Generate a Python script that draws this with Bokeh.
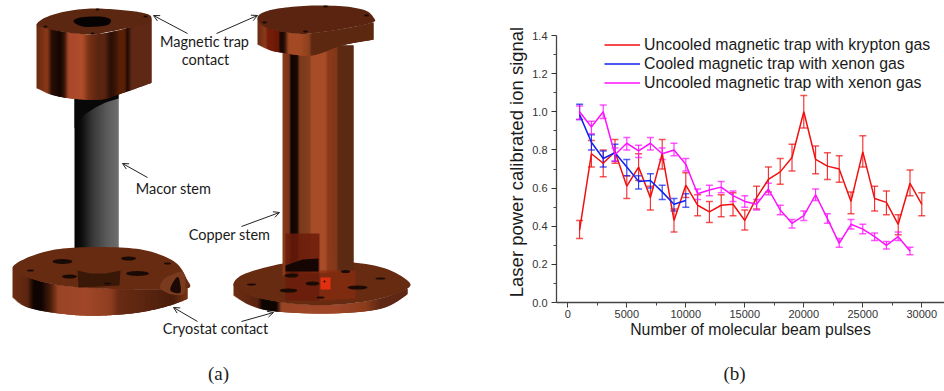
import numpy as np
from bokeh.plotting import figure
from bokeh.models import (ColumnDataSource, Whisker, TeeHead, Legend, LegendItem, Label, Arrow, OpenHead,
                          FixedTicker, Range1d, CustomJSTickFormatter)
from bokeh.embed import file_html
from bokeh.resources import INLINE

# ---------- chart data ----------
pulses = list(range(1000, 31000, 1000))
krypton = [0.38,0.78,0.73,0.79,0.61,0.71,0.55,0.78,0.43,0.615,0.51,0.475,0.51,0.515,0.43,0.55,0.645,0.685,0.76,1.0,0.75,0.715,0.70,0.53,0.79,0.545,0.525,0.41,0.625,0.515]
krypton_low = [0.335,0.71,0.66,0.73,0.545,0.64,0.485,0.70,0.37,0.55,0.455,0.42,0.45,0.455,0.38,0.49,0.58,0.62,0.69,0.915,0.675,0.645,0.63,0.465,0.71,0.48,0.46,0.355,0.56,0.455]
krypton_high = [0.43,0.85,0.80,0.855,0.665,0.78,0.61,0.855,0.49,0.68,0.565,0.53,0.565,0.575,0.485,0.61,0.71,0.755,0.83,1.085,0.82,0.785,0.77,0.58,0.875,0.61,0.585,0.46,0.695,0.575]
cooled = [0.985,0.84,0.755,0.785,0.71,0.635,0.64,0.58,0.515,0.535]
cooled_low = [0.96,0.80,0.71,0.74,0.665,0.595,0.60,0.54,0.48,0.50]
cooled_high = [1.04,0.88,0.795,0.83,0.75,0.665,0.675,0.615,0.545,0.57]
xenon = [1.0,0.92,1.0,0.775,0.835,0.795,0.835,0.78,0.80,0.725,0.57,0.59,0.605,0.56,0.53,0.515,0.595,0.485,0.415,0.455,0.565,0.44,0.31,0.41,0.385,0.345,0.30,0.345,0.27]
xenon_low = [0.96,0.885,0.965,0.74,0.80,0.76,0.80,0.75,0.77,0.69,0.54,0.56,0.575,0.53,0.50,0.485,0.565,0.46,0.39,0.43,0.535,0.415,0.29,0.385,0.36,0.325,0.28,0.325,0.25]
xenon_high = [1.03,0.95,1.035,0.81,0.865,0.825,0.865,0.81,0.835,0.755,0.595,0.615,0.635,0.585,0.56,0.54,0.625,0.51,0.435,0.48,0.595,0.465,0.335,0.435,0.41,0.365,0.32,0.37,0.29]
series_labels = ["Uncooled magnetic trap with krypton gas","Cooled magnetic trap with xenon gas","Uncooled magnetic trap with xenon gas"]
series_colors = ["#f01010","#1020f0","#ff10ff"]
y_ticks = [0,0.2,0.4,0.6,0.8,1.0,1.2,1.4]
x_ticks = [0,5000,10000,15000,20000,25000,30000]
x_title = "Number of molecular beam pulses"
y_title = "Laser power calibrated ion signal"

# ---------- illustration (a) and free captions: page pixel coordinates ----------
a = figure(width=944, height=391, x_range=Range1d(0,944), y_range=Range1d(391,0),
           output_backend="svg", toolbar_location=None, min_border=0)
a.axis.visible=False; a.grid.visible=False; a.outline_line_color=None
a.styles={"position":"absolute","left":"0px","top":"0px"}

def smooth(pts, closed=False, n=8):
    P=[np.array(q,float) for q in pts]
    if closed: P=[P[-1]]+P+[P[0],P[1]]
    else: P=[P[0]]+P+[P[-1]]
    out=[]
    for i in range(1,len(P)-2):
        p0,p1,p2,p3=P[i-1],P[i],P[i+1],P[i+2]
        for t in np.linspace(0,1,n,endpoint=False):
            out.append(tuple(0.5*((2*p1)+(-p0+p2)*t+(2*p0-5*p1+4*p2-p3)*t*t+(-p0+3*p1-3*p2+p3)*t**3)))
    if not closed: out.append(tuple(P[-1]))
    return out
def hex2(c): return np.array([int(c[i:i+2],16) for i in (1,3,5)],float)
def band(top, bottom, stops):
    top=smooth(top); bottom=smooth(bottom)
    x0=min(q[0] for q in top); x1=max(q[0] for q in top)
    xs=np.arange(x0,x1,1.0)
    tx,ty=zip(*top); bx,by=zip(*bottom)
    cx=[s[0] for s in stops]; rgb=np.array([hex2(s[1]) for s in stops])
    px,py,col=[],[],[]
    for x in xs:
        m=x+.5
        c=[int(np.interp(m,cx,rgb[:,k])) for k in range(3)]
        e=min(x+2.5,x1)
        px.append([x,e,e,x])
        t=np.interp(m,tx,ty); b=np.interp(m,bx,by)
        py.append([t,t,b,b]); col.append("#%02x%02x%02x"%tuple(c))
    a.patches(px,py,fill_color=col,line_color=None,fill_alpha=1)
def poly(pts,color,alpha=1,round_=False):
    if round_: pts=smooth(pts,closed=True)
    xs,ys=zip(*pts)
    a.patch(list(xs),list(ys),fill_color=color,line_color=None,fill_alpha=alpha)
def holes(items,color="#1a0a05"):
    for x,y,w,h in items:
        a.ellipse(x,y,width=w,height=h,fill_color=color,line_color=None)

# left stem
band([(74,90),(118,90)],[(77,270),(90,273),(105,273),(120,270)],
     [(74,"#050505"),(82,"#101010"),(92,"#383838"),(106,"#5a5a5a"),(118,"#707070")])
poly([(74,90),(118,90),(118,98),(105,102),(95,107),(84,114),(78,120),(74,128)],"#080808")
# left flange
band([(12,268),(30,278),(60,285),(100,288),(150,289),(187,288)],
     [(12,297),(30,308),(80,315),(130,313),(165,306),(187,298)],
     [(12,"#6e2e14"),(27,"#5c2610"),(33,"#120502"),(41,"#100502"),(50,"#4a1e0c"),(58,"#9a4526"),(85,"#a2482a"),(110,"#8f3f20"),(118,"#6a2c14"),(143,"#5c2610"),(172,"#4a1e0c"),(187,"#7a3416")])
poly([(12,268),(25,258),(50,250),(77,247),(120,247),(150,251),(175,262),(186,278),(187,288),(150,289),(100,288),(60,285),(30,278)],"#672b12",round_=True)
poly([(77,270),(90,273),(105,273),(120,270),(119,285),(78,287)],"#3a1808")
poly([(160,288),(163,279),(172,274),(183,272),(184,292),(172,294)],"#7a3a1e",round_=True)
poly([(170,290),(173,281),(178,277),(180,292)],"#1c0904",round_=True)
holes([(62,261,20,5),(128,258,15,4),(137,273,23,5),(69,276,15,4),(30,270,7,2),(167,263,7,2),(107,283,7,2)])
# left top block
band([(36,24),(55,30),(75,33),(95,34),(125,28),(151,18)],
     [(37,88),(50,94),(70,98),(100,99),(120,93),(151,82)],
     [(36,"#6a2a10"),(42,"#7a3216"),(47,"#8a3a18"),(51,"#2a0f06"),(60,"#140602"),(64,"#3a1608"),(68,"#a8482a"),(82,"#b04e2a"),(88,"#7a3216"),(97,"#5c2610"),(104,"#5a2410"),(110,"#2a0f06"),(115,"#3a1608"),(119,"#5a2006"),(124,"#5a2006"),(127,"#1e0a04"),(131,"#5e2814"),(151,"#5e2814")])
poly([(36,24),(45,17),(65,11),(90,8),(115,9),(135,11),(148,14),(151,18),(146,23),(125,28),(105,32),(95,34),(75,33),(55,30),(42,27)],"#5c2710",round_=True)
poly([(73,21),(80,17),(100,16),(110,19),(108,24),(98,26),(82,26)],"#070302",round_=True)
holes([(45,26,4,2),(92,33,4,2),(145,16,4,2),(97,9,4,2)])

# right flange
band([(233,283),(240,290),(260,298),(300,304),(340,304),(380,298),(407,288)],
     [(233,295),(250,305),(275,311),(330,313),(380,308),(407,293)],
     [(233,"#6e2e14"),(257,"#5a2410"),(262,"#0e0401"),(276,"#0e0401"),(281,"#9a4526"),(333,"#a0482a"),(365,"#8a3c1c"),(380,"#5e2814"),(407,"#5e2814")])
poly([(233,283),(245,273),(283,263),(320,261),(353,262),(385,268),(407,280),(407,288),(380,298),(340,304),(300,304),(260,298),(240,290)],"#672b12",round_=True)
# right stem
band([(282,45),(353,45)],[(283,275),(353,270)],
     [(282,"#8b3d1b"),(289,"#7a3418"),(290.5,"#100401"),(297,"#1c0a04"),(299,"#7c3a1c"),(309,"#84401f"),(311,"#a84c28"),(325,"#a84c28"),(327,"#8c3c1c"),(336,"#82381a"),(338,"#5c2a12"),(353,"#5c2a12")])
poly([(285,233),(319,233),(319,300),(285,300)],"#6c1c0a",0.85)
poly([(319,270),(355,270),(355,298),(319,300)],"#8a2c10",0.7)
poly([(285,265),(302,259),(318,258),(318,271),(285,271)],"#160603")
holes([(291,275,14,4),(345,271,9,3),(380,278,10,2),(251,284,9,2),(288,290,18,4),(312,283,14,4),(357,287,20,4),(320,297,8,2)])
poly([(320,277),(330,277),(330,289),(320,289)],"#e03010")
holes([(324,281,2,2)])
# right top block
band([(257,17),(262,25),(275,30),(295,33),(310,33),(345,28),(373,22)],
     [(257,44),(270,50),(280,52),(310,55),(340,45),(373,39)],
     [(257,"#6a2c12"),(265,"#8a3c1c"),(267,"#7a1e08"),(278,"#6a1a08"),(280,"#150603"),(284,"#2a0f06"),(288,"#a34a24"),(300,"#a34a24"),(309,"#8c3f1e"),(311,"#5c2810"),(373,"#5c2810")])
poly([(257,17),(265,11),(285,7),(315,5),(345,6),(365,10),(373,17),(372,22),(345,28),(310,33),(295,33),(275,30),(262,25)],"#5a2410",round_=True)
holes([(264,22,5,2),(305,31,5,2),(366,15,5,2),(325,6,5,2)])

# annotations of (a)
arrows=[(187,33,153,15),(216,33,257,15),(147,177,122,163),(241,226,279,212),(197,321,173,307),(241,321,273,312)]
for x0,y0,x1,y1 in arrows:
    a.add_layout(Arrow(end=OpenHead(size=6,line_color="#222222",line_width=1),x_start=x0,y_start=y0,x_end=x1,y_end=y1,line_color="#222222",line_width=1))
notes=[("Magnetic trap",204,41),("contact",205,59),("Macor stem",173,188),("Copper stem",229,234),("Cryostat contact",215,328)]
for t,x,y in notes:
    a.add_layout(Label(x=x,y=y,text=t,text_font="Lato",text_font_size="14.5px",text_align="center",text_baseline="middle",text_color="#1a1a1a"))
for t,x in (("(a)",218),("(b)",734)):
    a.add_layout(Label(x=x,y=373,text=t,text_font="Liberation Serif",text_font_size="19px",text_align="center",text_baseline="middle",text_color="#222222"))
a.add_layout(Label(x=516,y=161.5,text=y_title,angle=np.pi/2,text_font="Liberation Sans",text_font_size="18.5px",text_align="center",text_baseline="middle",text_color="#1a1a1a"))

# ---------- chart (b) ----------
PX=354/30000
xmin=-11.3/PX
p=figure(width=456,height=391,x_range=Range1d(xmin,xmin+388/PX),y_range=Range1d(0,1.4),
         output_backend="svg",toolbar_location=None,
         min_border_left=68,min_border_right=0,min_border_top=35,min_border_bottom=89,
         background_fill_color=None,border_fill_color=None)
p.styles={"position":"absolute","left":"488px","top":"0px"}
p.grid.visible=False; p.outline_line_color=None
p.xaxis.ticker=FixedTicker(ticks=x_ticks,minor_ticks=[2500*i for i in range(0,14)])
p.yaxis.ticker=FixedTicker(ticks=y_ticks,minor_ticks=[0.1+0.2*i for i in range(7)])
for ax in (p.xaxis[0],p.yaxis[0]):
    ax.axis_line_color="#444444"; ax.axis_line_width=1.3; ax.major_tick_line_color="#333333"; ax.minor_tick_line_color="#444444"
    ax.major_tick_in=0; ax.major_tick_out=5; ax.minor_tick_in=0; ax.minor_tick_out=3
    ax.major_label_text_font="Liberation Sans"; ax.major_label_text_font_size="11px"; ax.major_label_text_color="#333333"
    ax.axis_label_text_font="Liberation Sans"; ax.axis_label_text_font_style="normal"; ax.axis_label_text_color="#1a1a1a"
p.xaxis.axis_label=x_title
p.xaxis.axis_label_text_font_size="15.8px"
p.xaxis.major_label_standoff=2; p.yaxis.major_label_standoff=4
p.xaxis.axis_label_standoff=0
p.yaxis.formatter=CustomJSTickFormatter(code="return tick.toFixed(1)")
p.xaxis.formatter=CustomJSTickFormatter(code="return tick.toFixed(0)")
items=[]
groups=[(krypton,krypton_low,krypton_high),(cooled,cooled_low,cooled_high),(xenon,xenon_low,xenon_high)]
for (val,lo,hi),lab,col in zip(groups,series_labels,series_colors):
    src=ColumnDataSource(dict(x=pulses[:len(val)],y=val,lo=lo,hi=hi))
    r=p.line("x","y",source=src,line_color=col,line_width=1.5)
    p.add_layout(Whisker(source=src,base="x",lower="lo",upper="hi",line_color=col,line_width=1.1,line_alpha=0.9,
        upper_head=TeeHead(size=7,line_color=col,line_alpha=0.7,line_width=1.5),lower_head=TeeHead(size=7,line_color=col,line_alpha=0.7,line_width=1.5)))
    items.append(LegendItem(label=lab,renderers=[r]))
leg=Legend(items=items,location=(48,210),background_fill_alpha=0,border_line_color=None,
           glyph_width=36,glyph_height=19,label_height=19,label_standoff=4,spacing=0,padding=0,margin=0,
           label_text_font="Liberation Sans",label_text_font_size="15.85px",label_text_color="#1a1a1a")
p.add_layout(leg,"center")

open("out.html","w").write(file_html([a,p],INLINE))
